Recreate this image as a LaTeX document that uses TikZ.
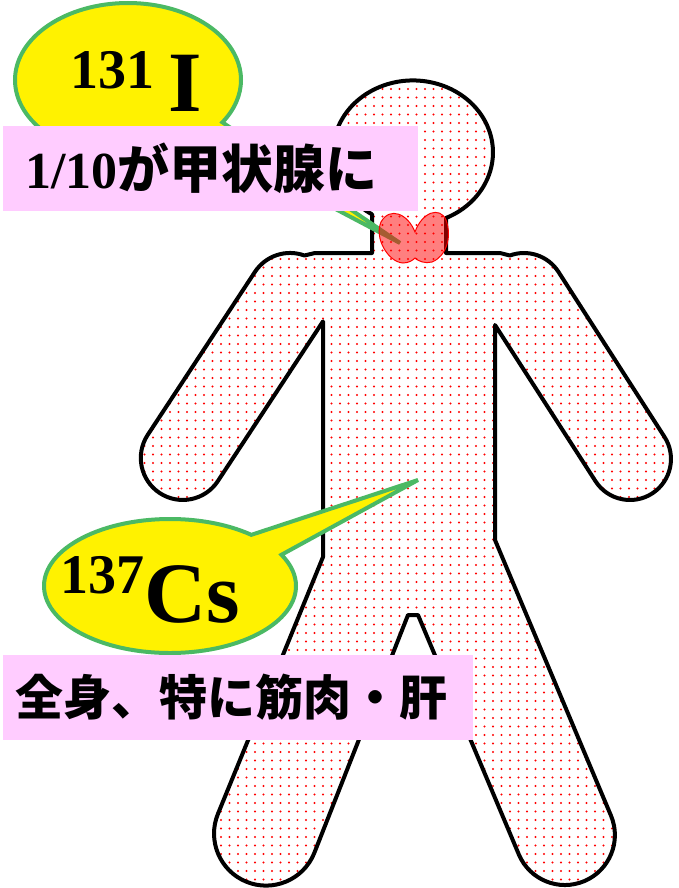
\documentclass[tikz,border=0pt]{standalone}
\usepackage{fontspec}
\setmainfont{Liberation Serif}
\newfontfamily\jpfont{Noto Sans CJK JP}
\usetikzlibrary{shapes.callouts,patterns.meta}
\definecolor{balloongreen}{RGB}{75,185,100}
\definecolor{labelpink}{RGB}{255,204,255}
\tikzset{
  balloon/.style={ellipse callout, fill=yellow, draw=balloongreen, line width=4pt, inner sep=0pt},
  balloontext/.style={anchor=base west, inner sep=0pt, font=\bfseries},
  labelbox/.style={fill=labelpink, anchor=west, align=left, inner ysep=0pt, minimum height=85pt, font=\jpfont\bfseries},
  body/.style={line width=4pt, line join=round, pattern={Dots[distance=8.5pt,radius=1.1pt]}, pattern color=red},
}
\begin{document}
\begin{tikzpicture}[x=1pt,y=-1pt]
  \useasboundingbox (0,0) rectangle (679,888);
  \draw[body]
    (372,214) -- (372,253) -- (315,253) -- (304.4,255.5)
    arc[start angle=290, end angle=213.3, radius=42]
    -- (147.7,434.9)
    arc[start angle=213.3, end angle=33.3, radius=42]
    -- (323,321.4) -- (323,557) -- (218,813.7)
    arc[start angle=202.5, end angle=22.5, radius=52]
    -- (408,615) -- (418,615) -- (518.8,854.4)
    arc[start angle=157.2, end angle=-22.8, radius=50]
    -- (495,540) -- (495,325) -- (595.5,481.2)
    arc[start angle=147.2, end angle=-32.8, radius=41]
    -- (558.4,271.8)
    arc[start angle=-32.8, end angle=-110, radius=41]
    -- (500,253) -- (446,253) -- (446,218)
    arc[start angle=65.6, end angle=-239.2, x radius=80, y radius=72]
    -- cycle;
  \coordinate (thyroid) at (400,243);
  \coordinate (belly) at (418,480);
  \node[balloon, minimum width=226pt, minimum height=154pt, callout pointer arc=16,
    callout absolute pointer={(thyroid)}] (iodine) at (128,80) {};
  \node[balloontext] (iodinelabel) at (70,112)
    {\fontsize{56}{56}\selectfont\raisebox{24pt}{131}\hspace{14pt}\fontsize{86}{86}\selectfont I};
  \node[balloon, minimum width=252pt, minimum height=134pt, callout pointer arc=22,
    callout absolute pointer={(belly)}] (cesium) at (170,586) {};
  \node[balloontext] (cesiumlabel) at (60,622)
    {\fontsize{56}{56}\selectfont\raisebox{29pt}{137}\fontsize{86}{86}\selectfont Cs};
  \filldraw[fill=red, fill opacity=0.5, draw=red, line width=1pt]
    (415,232) .. controls (408,214) and (390,206) .. (381,222)
    .. controls (374,238) and (388,262) .. (403,263)
    .. controls (409,263) and (413,260) .. (415,258)
    .. controls (418,261) and (425,264) .. (432,262)
    .. controls (447,256) and (452,236) .. (446,220)
    .. controls (440,206) and (422,212) .. (415,232) -- cycle;
  \node[labelbox, minimum width=415pt, text width=371pt, inner xsep=22pt] (iodinenote) at (3,168.5)
    {\fontsize{52}{52}\selectfont{\rmfamily 1/10}が甲状腺に};
  \node[labelbox, minimum width=470pt, text width=446pt, inner xsep=12pt] (cesiumnote) at (3,697)
    {\fontsize{48}{48}\selectfont 全身、特に筋肉・肝};
\end{tikzpicture}
\end{document}
